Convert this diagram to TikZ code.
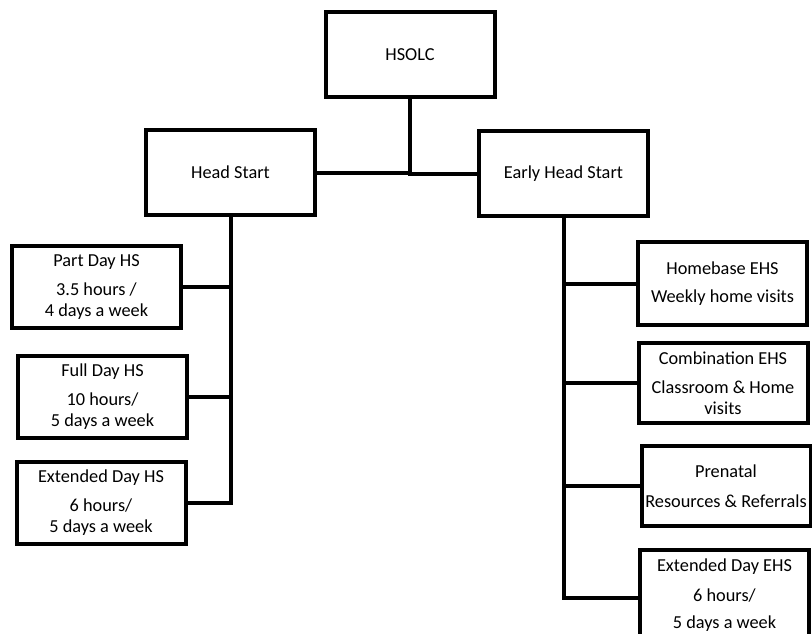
\documentclass[tikz,border=0pt]{standalone}
\usepackage{fontspec}
\setmainfont{Carlito}
\begin{document}
\begin{tikzpicture}[x=1pt,y=-1pt]
            \tikzstyle{bloc} = [rectangle,
            line width=4pt,
            inner sep=0pt,
            align=center,
            draw=black,
            fill=white,
            font=\fontsize{18.3}{21}\selectfont]
            \tikzstyle{haut} = [bloc, minimum width=169pt, minimum height=85pt]
            \tikzstyle{grand} = [bloc, minimum width=169pt, minimum height=82pt]
            \tikzstyle{lien} = [line width=4pt, black]
            \useasboundingbox (0,0) rectangle (812,633);
            \node (hsolc)[haut] at (410,54.5) {HSOLC};
            \node (hs)[haut] at (230.5,172.5) {Head Start};
            \node (ehs)[haut] at (563.5,173.5) {Early Head Start};

            \node (partday)[grand] at (96.5,287) {Part Day HS\\[8pt] 3.5 hours /\\ 4 days a week};
            \node (fullday)[grand] at (102.5,397) {Full Day HS\\[8pt] 10 hours/\\ 5 days a week};
            \node (extday)[grand] at (101,502.5) {Extended Day HS\\[8pt] 6 hours/\\ 5 days a week};

            \node (homebase)[grand, minimum height=83pt] at (722.5,283.5) {Homebase EHS\\[7pt] Weekly home visits};
            \node (combi)[grand, minimum height=80pt] at (723,383) {Combination EHS\\[8pt] Classroom \& Home\\ visits};
            \node (prenatal)[grand, minimum height=80pt] at (726,486) {Prenatal\\[9pt] Resources \& Referrals};
            \node (extehs)[grand, minimum height=90pt] at (724.5,595) {Extended Day EHS\\[9pt] 6 hours/\\[6pt] 5 days a week};

            \draw [lien] (hs.east) -- (hs.east -| hsolc.south);
            \draw [lien] (hsolc.south) |- (ehs.west);
            \draw [lien] (partday.east) -| (hs.south);
            \draw [lien] (fullday.east) -| (hs.south);
            \draw [lien] (extday.east) -| (hs.south);
            \draw [lien] (homebase.west) -| (ehs.south);
            \draw [lien] (combi.west) -| (ehs.south);
            \draw [lien] (prenatal.west) -| (ehs.south);
            \draw [lien] ([yshift=-3pt]extehs.west) -| (ehs.south);
        \end{tikzpicture}
\end{document}
